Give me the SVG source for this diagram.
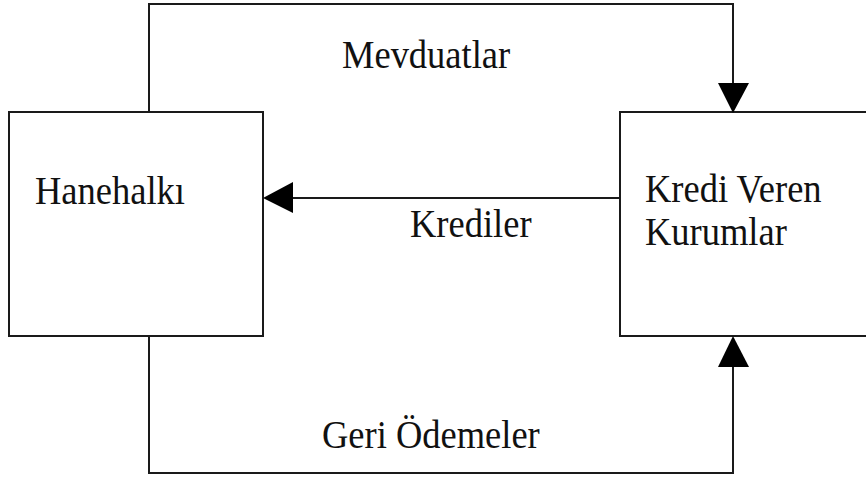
<svg xmlns="http://www.w3.org/2000/svg" width="866" height="477" viewBox="0 0 866 477">
  <style>
    .box { fill: #ffffff; stroke: #1a1a1a; stroke-width: 2; }
    .wire { fill: none; stroke: #1a1a1a; stroke-width: 2; }
    .head { fill: #000000; }
    .lbl { font-family: "Liberation Serif", "Times New Roman", serif; font-size: 36.5px; fill: #111111; }
  </style>
  <rect width="866" height="477" fill="#ffffff"/>

  <g id="hanehalki">
    <rect class="box" x="9" y="112" width="254" height="224"/>
    <text class="lbl" transform="translate(35,204) scale(1,1.08)">Hanehalkı</text>
  </g>

  <g id="kredi-veren-kurumlar">
    <rect class="box" x="620" y="112" width="260" height="224"/>
    <text class="lbl" transform="translate(645,202) scale(1,1.08)">Kredi Veren</text>
    <text class="lbl" transform="translate(645,245) scale(1,1.08)">Kurumlar</text>
  </g>

  <g id="connectors">
    <!-- deposits: household to institutions, over the top -->
    <polyline class="wire" points="149,112 149,4 733,4 733,84"/>
    <polygon class="head" points="718,83 749,83 733,113"/>
    <!-- loans: institutions to household -->
    <line class="wire" x1="620" y1="198" x2="292" y2="198"/>
    <polygon class="head" points="293,182 293,213 263,198"/>
    <!-- repayments: household to institutions, along the bottom -->
    <polyline class="wire" points="149,336 149,473 733,473 733,366"/>
    <polygon class="head" points="718,367 749,367 733,336"/>
  </g>

  <g id="labels">
    <text class="lbl" transform="translate(342,68) scale(1,1.08)">Mevduatlar</text>
    <text class="lbl" transform="translate(410,237) scale(1,1.08)">Krediler</text>
    <text class="lbl" transform="translate(322,448) scale(1,1.08)">Geri Ödemeler</text>
  </g>
</svg>
